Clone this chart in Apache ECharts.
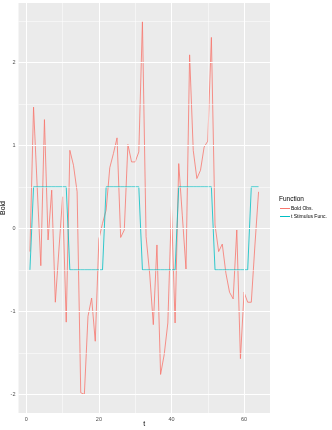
<!DOCTYPE html>
<html>
<head>
<meta charset="utf-8">
<script src="https://cdn.jsdelivr.net/npm/echarts@6.0.0/dist/echarts.min.js"></script>
<style>
html, body { margin: 0; padding: 0; background: #fff; }
#chart { width: 332px; height: 430px; }
</style>
</head>
<body>
<div id="chart"></div>
<script>
// time points
var t = [];
for (var i = 1; i <= 64; i++) t.push(i);

var boldObs = [
    -0.28, 1.46, 0.50, -0.45, 1.31, -0.14, 0.46, -0.89, -0.25, 0.38,
    -1.13, 0.94, 0.76, 0.44, -1.98, -2.00, -1.06, -0.84, -1.36, -0.13,
    0.06, 0.22, 0.73, 0.90, 1.09, -0.11, -0.02, 1.01, 0.80, 0.80,
    0.92, 2.49, -0.10, -0.55, -1.16, -0.20, -1.76, -1.52, -1.14, 0.26,
    -1.14, 0.78, 0.15, -0.49, 2.09, 0.94, 0.60, 0.70, 0.98, 1.05,
    2.30, 0.04, -0.28, -0.19, -0.54, -0.77, -0.85, -0.02, -1.57, -0.77,
    -0.89, -0.89, -0.20, 0.44
];

// stimulus function (on/off blocks)
var stimFunc = [
    -0.5, 0.5, 0.5, 0.5, 0.5, 0.5, 0.5, 0.5, 0.5, 0.5,
    0.5, -0.5, -0.5, -0.5, -0.5, -0.5, -0.5, -0.5, -0.5, -0.5,
    -0.5, 0.5, 0.5, 0.5, 0.5, 0.5, 0.5, 0.5, 0.5, 0.5,
    0.5, -0.5, -0.5, -0.5, -0.5, -0.5, -0.5, -0.5, -0.5, -0.5,
    -0.5, 0.5, 0.5, 0.5, 0.5, 0.5, 0.5, 0.5, 0.5, 0.5,
    0.5, -0.5, -0.5, -0.5, -0.5, -0.5, -0.5, -0.5, -0.5, -0.5,
    -0.5, 0.5, 0.5, 0.5
];

var xBreaks = [0, 20, 40, 60];
var xMinor = [10, 30, 50];
var yBreaks = [-2, -1, 0, 1, 2];
var yMinor = [-1.5, -0.5, 0.5, 1.5, 2.5];

const myChart = echarts.init(document.getElementById('chart'));

function pairs(xs, ys) {
    var out = [];
    for (var i = 0; i < xs.length; i++) out.push([xs[i], ys[i]]);
    return out;
}

// ggplot style 5% expansion
function expand(arr) {
    var lo = Math.min.apply(null, arr), hi = Math.max.apply(null, arr);
    var pad = (hi - lo) * 0.05;
    return [lo - pad, hi + pad];
}
var xr = expand(t);
var yr = expand(boldObs.concat(stimFunc));

var gridLines = [];
xMinor.forEach(function (v) { gridLines.push({ xAxis: v, lineStyle: { color: '#fff', width: 0.5, type: 'solid' } }); });
yMinor.forEach(function (v) { gridLines.push({ yAxis: v, lineStyle: { color: '#fff', width: 0.5, type: 'solid' } }); });
xBreaks.forEach(function (v) { gridLines.push({ xAxis: v, lineStyle: { color: '#fff', width: 1, type: 'solid' } }); });
yBreaks.forEach(function (v) { gridLines.push({ yAxis: v, lineStyle: { color: '#fff', width: 1, type: 'solid' } }); });

const option = {
    animation: false,
    textStyle: { fontFamily: 'Liberation Sans' },
    title: {
        text: 'Function',
        left: 274,
        top: 191,
        textStyle: { fontSize: 6.5, fontWeight: 'normal', color: '#000', fontFamily: 'Liberation Sans' }
    },
    legend: {
        orient: 'vertical',
        left: 275,
        top: 201,
        itemWidth: 10,
        itemHeight: 1,
        itemGap: 3,
        data: [
            { name: 'Bold Obs.', icon: 'rect' },
            { name: 't Stimulus Func.', icon: 'rect' }
        ],
        itemStyle: { borderWidth: 0 },
        textStyle: { fontSize: 5, color: '#000', padding: [0, 0, 0, -4] }
    },
    grid: {
        left: 18.5,
        right: 62,
        top: 3,
        bottom: 17,
        outerBoundsMode: 'none',
        containLabel: false,
        show: true,
        backgroundColor: '#EBEBEB',
        borderWidth: 0
    },
    xAxis: {
        type: 'value',
        min: xr[0],
        max: xr[1],
        name: 't',
        nameLocation: 'middle',
        nameGap: 8,
        nameMoveOverlap: false,
        nameTextStyle: { fontSize: 7, color: '#000', verticalAlign: 'top' },
        axisLine: { show: false },
        axisTick: { show: true, length: 2, customValues: xBreaks, lineStyle: { color: '#333', width: 0.6 } },
        axisLabel: { customValues: xBreaks, fontSize: 5.5, color: '#4D4D4D', margin: 3 },
        splitLine: { show: false }
    },
    yAxis: {
        type: 'value',
        min: yr[0],
        max: yr[1],
        name: 'Bold',
        nameLocation: 'middle',
        nameRotate: 90,
        nameGap: 12,
        nameMoveOverlap: false,
        nameTextStyle: { fontSize: 7, color: '#000' },
        axisLine: { show: false },
        axisTick: { show: true, length: 2, customValues: yBreaks, lineStyle: { color: '#333', width: 0.6 } },
        axisLabel: { customValues: yBreaks, fontSize: 5.5, color: '#4D4D4D', margin: 3 },
        splitLine: { show: false }
    },
    series: [
        {
            name: 'grid',
            type: 'line',
            data: [],
            silent: true,
            z: 0,
            markLine: {
                silent: true,
                symbol: 'none',
                label: { show: false },
                data: gridLines
            }
        },
        {
            name: 'Bold Obs.',
            type: 'line',
            symbol: 'none',
            data: pairs(t, boldObs),
            lineStyle: { color: '#F8766D', width: 0.8 },
            itemStyle: { color: '#F8766D' },
            z: 3
        },
        {
            name: 't Stimulus Func.',
            type: 'line',
            symbol: 'none',
            data: pairs(t, stimFunc),
            lineStyle: { color: '#00BFC4', width: 0.8 },
            itemStyle: { color: '#00BFC4' },
            z: 4
        }
    ]
};
myChart.setOption(option);
</script>
</body>
</html>
